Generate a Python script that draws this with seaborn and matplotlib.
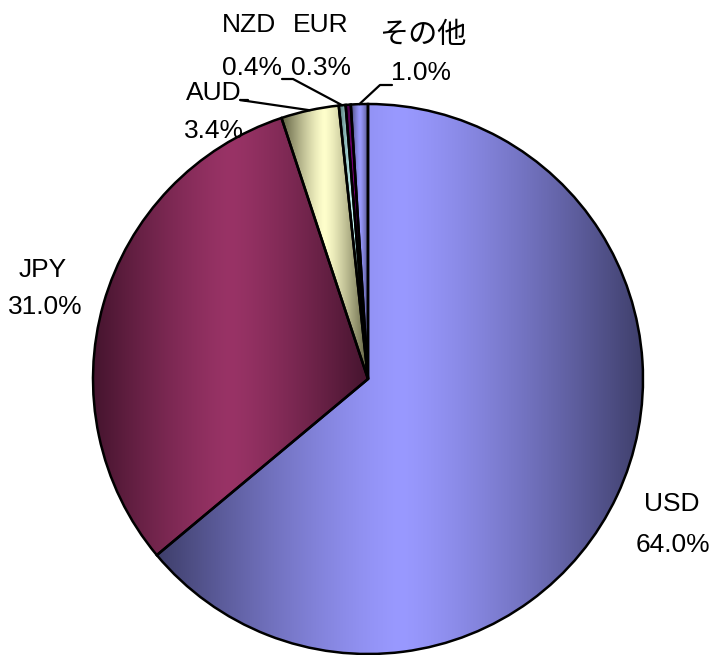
import matplotlib.pyplot as plt
import matplotlib.colors as mcolors
import seaborn as sns
import numpy as np

labels = ["USD", "JPY", "AUD", "NZD", "EUR", "その他"]
shares = [64.0, 31.0, 3.4, 0.4, 0.3, 1.0]
light = ["#9999FF", "#993366", "#FFFFCC", "#CCFFFF", "#8A008A", "#9999FF"]
dark = ["#3E3E6A", "#45142E", "#5E5E40", "#4E7070", "#400040", "#4A4A7A"]

sns.set_theme(style="white")
plt.rcParams["font.family"] = ["Liberation Sans", "Noto Sans CJK JP", "DejaVu Sans"]

fig = plt.figure(figsize=(7.13, 6.55), dpi=100)
ax = fig.add_axes([0, 0, 1, 1])

cx, cy, r = 368, 276, 275
wedges, _ = ax.pie(
    shares,
    startangle=90,
    counterclock=False,
    center=(cx, cy),
    radius=r,
    wedgeprops=dict(edgecolor="black", linewidth=1.8),
    frame=True,
)
ax.set_aspect("equal")
ax.axis("off")

# horizontal shading: dark at the wedge's sides, light in the middle
for w, lc, dc in zip(wedges, light, dark):
    bb = w.get_path().get_extents(w.get_patch_transform())
    t = np.linspace(-1, 1, 256)
    k = np.abs(t) ** 1.3
    lc_ = np.array(mcolors.to_rgb(lc))
    dc_ = np.array(mcolors.to_rgb(dc))
    img = (1 - k)[:, None] * lc_ + k[:, None] * dc_
    im = ax.imshow(img[None, :, :], extent=(bb.x0, bb.x1, bb.y0, bb.y1),
                   aspect="auto", zorder=w.get_zorder() - 0.1, origin="lower")
    im.set_clip_path(w)
    w.set_facecolor("none")

ax.set_xlim(0, 713)
ax.set_ylim(0, 655)

fs = 19
pct = [f"{v:.1f}%" for v in shares]
# label anchor positions (pixel coords, y from bottom)
pos = {
    "USD": (672, 151),
    "JPY": (43, 385),
    "AUD": (214, 562),
    "NZD": (249, 630),
    "EUR": (321, 630),
    "その他": (423, 620),
}
pct_pos = {
    "USD": (673, 110),
    "JPY": (45, 348),
    "AUD": (214, 524),
    "NZD": (252, 587),
    "EUR": (321, 587),
    "その他": (421, 582),
}
for lab, p in zip(labels, pct):
    if lab == "その他":
        ax.text(*pos[lab], lab, ha="center", va="center", fontsize=21,
                color="black", family=["Noto Sans CJK JP", "DejaVu Sans"])
    else:
        ax.text(*pos[lab], lab, ha="center", va="center", fontsize=fs, color="black")
    ax.text(*pct_pos[lab], p, ha="center", va="center", fontsize=fs, color="black")

# leader lines for the small slices
def edge_point(w, frac=0.5):
    ang = np.deg2rad(w.theta1 + (w.theta2 - w.theta1) * frac)
    return cx + r * np.cos(ang), cy + r * np.sin(ang)

leaders = {
    2: [(248, 555), (240, 555)],
    3: [(282, 576), (293, 576)],
    5: [(392, 570), (380, 570)],
}
for i, pts in leaders.items():
    ex, ey = edge_point(wedges[i])
    xs = [pts[0][0], pts[1][0], ex]
    ys = [pts[0][1], pts[1][1], ey]
    ax.plot(xs, ys, color="black", linewidth=1.6, zorder=5)

plt.savefig("out.png", dpi=100)
